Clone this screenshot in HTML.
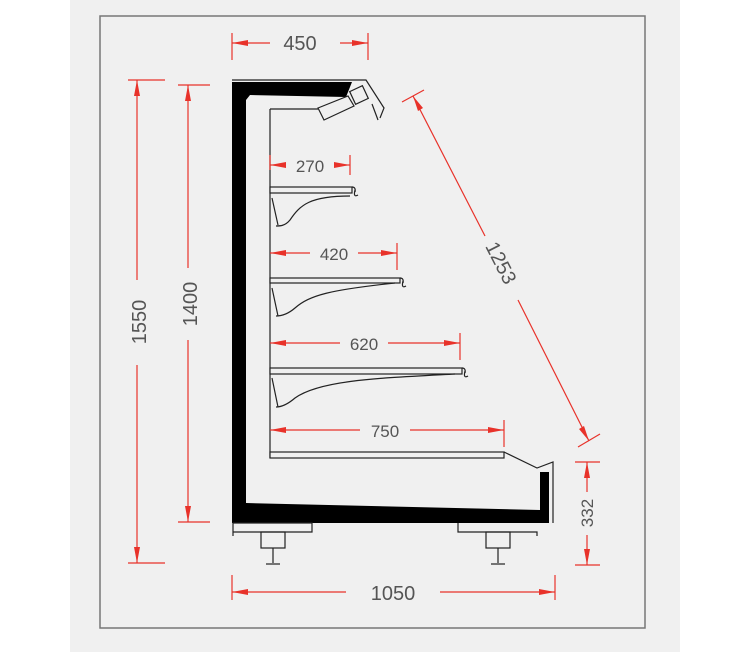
<!DOCTYPE html>
<html><head><style>body{margin:0;background:#fff}svg{display:block}</style></head><body>
<svg width="752" height="652" viewBox="0 0 752 652" xmlns="http://www.w3.org/2000/svg" font-family="Liberation Sans, DejaVu Sans, sans-serif">
<rect x="70" y="0" width="610" height="652" fill="#f0f0f0"/>
<rect x="100" y="16" width="545" height="612" fill="none" stroke="#777" stroke-width="1.5"/>
<g stroke="#222" stroke-width="1.2" fill="none">
<!-- top -->
<polyline points="232,80 366,80 384,108 380,118"/>
<polygon points="232,82 352,82 346,97 250,95 246,100 246,522 232,522" fill="#000" stroke="none"/>
<line x1="270" y1="109" x2="318" y2="109"/>
<polygon points="318,108 348,96 354,106 324,120" fill="#f0f0f0"/>
<rect x="352" y="88" width="14" height="14" transform="rotate(-25 359 95)" fill="#f0f0f0"/>
<line x1="372" y1="104" x2="378" y2="120"/>
<line x1="270" y1="109" x2="270" y2="458"/>
<!-- shelves -->
<rect x="270" y="187" width="82" height="6" fill="#f0f0f0"/>
<path d="M352,187 q4,0 3,5 M355,190 q-2,8 3,5"/>
<path d="M272,198 L278,225 M350,196 C310,196 300,205 290,220 C285,226 280,226 276,226"/>
<rect x="270" y="278" width="130" height="5" fill="#f0f0f0"/>
<path d="M400,278 q4,0 3,5 M403,281 q-2,8 3,5"/>
<path d="M272,288 L278,316 M395,283 C330,290 310,295 295,308 C288,314 282,316 276,316"/>
<rect x="270" y="368" width="192" height="6" fill="#f0f0f0"/>
<path d="M462,368 q4,0 3,5 M465,371 q-2,8 3,5"/>
<path d="M272,378 L278,407 M455,374 C380,378 320,380 295,398 C288,404 282,407 276,407"/>
<rect x="270" y="452" width="234" height="6" fill="#f0f0f0"/>
<polyline points="504,452 537,468 553,462 553,523"/>
<!-- bottom -->
<polygon points="246,503 540,510 540,472 549,472 549,523 232,523 232,500 246,500" fill="#000" stroke="none"/>
<polyline points="233,536 233,523 312,523 312,532 233,532"/>
<rect x="261" y="532" width="24" height="16"/>
<line x1="273" y1="548" x2="273" y2="563"/><line x1="266" y1="564" x2="280" y2="564"/>
<polyline points="458,523 458,532 537,532 537,536"/>
<rect x="486" y="532" width="24" height="16"/>
<line x1="498" y1="548" x2="498" y2="563"/><line x1="491" y1="564" x2="505" y2="564"/>
</g>
<g stroke="#e8322a" stroke-width="1.2" fill="#e8322a">
<line x1="232" y1="33" x2="232" y2="60"/><line x1="368" y1="33" x2="368" y2="60"/>
<line x1="232" y1="43" x2="270" y2="43"/><line x1="340" y1="43" x2="368" y2="43"/>
<polygon points="232,43 248,40 248,46" stroke="none"/><polygon points="368,43 352,40 352,46" stroke="none"/>
<line x1="128" y1="80" x2="165" y2="80"/><line x1="128" y1="563" x2="165" y2="563"/>
<line x1="137" y1="80" x2="137" y2="280"/><line x1="137" y1="365" x2="137" y2="563"/>
<polygon points="137,80 134,96 140,96" stroke="none"/><polygon points="137,563 134,547 140,547" stroke="none"/>
<line x1="178" y1="85" x2="210" y2="85"/><line x1="178" y1="522" x2="210" y2="522"/>
<line x1="188" y1="85" x2="188" y2="268"/><line x1="188" y1="340" x2="188" y2="522"/>
<polygon points="188,85 185,101 191,101" stroke="none"/><polygon points="188,522 185,506 191,506" stroke="none"/>
<line x1="402" y1="102" x2="424" y2="90"/><line x1="578" y1="447" x2="600" y2="434"/>
<line x1="413" y1="96" x2="485" y2="236"/><line x1="518" y1="300" x2="589" y2="441"/>
<polygon points="413,96 418,111 423,108" stroke="none"/><polygon points="589,441 579,429 584,426" stroke="none"/>
<line x1="575" y1="462" x2="600" y2="462"/><line x1="575" y1="565" x2="600" y2="565"/>
<line x1="587" y1="462" x2="587" y2="492"/><line x1="587" y1="535" x2="587" y2="565"/>
<polygon points="587,462 584,478 590,478" stroke="none"/><polygon points="587,565 584,549 590,549" stroke="none"/>
<line x1="232" y1="575" x2="232" y2="600"/><line x1="555" y1="575" x2="555" y2="600"/>
<line x1="232" y1="592" x2="346" y2="592"/><line x1="440" y1="592" x2="555" y2="592"/>
<polygon points="232,592 248,589 248,595" stroke="none"/><polygon points="555,592 539,589 539,595" stroke="none"/>
<line x1="270" y1="155" x2="270" y2="170"/><line x1="350" y1="155" x2="350" y2="175"/>
<line x1="270" y1="165" x2="285" y2="165"/><line x1="335" y1="165" x2="350" y2="165"/>
<polygon points="270,165 286,162 286,168" stroke="none"/><polygon points="350,165 334,162 334,168" stroke="none"/>
<line x1="397" y1="243" x2="397" y2="270"/>
<line x1="270" y1="253" x2="310" y2="253"/><line x1="358" y1="253" x2="397" y2="253"/>
<polygon points="270,253 286,250 286,256" stroke="none"/><polygon points="397,253 381,250 381,256" stroke="none"/>
<line x1="460" y1="333" x2="460" y2="360"/>
<line x1="270" y1="343" x2="340" y2="343"/><line x1="388" y1="343" x2="460" y2="343"/>
<polygon points="270,343 286,340 286,346" stroke="none"/><polygon points="460,343 444,340 444,346" stroke="none"/>
<line x1="504" y1="420" x2="504" y2="447"/>
<line x1="270" y1="430" x2="360" y2="430"/><line x1="410" y1="430" x2="504" y2="430"/>
<polygon points="270,430 286,427 286,433" stroke="none"/><polygon points="504,430 488,427 488,433" stroke="none"/>
</g>
<g fill="#555" font-size="20">
<text x="300" y="50" text-anchor="middle">450</text>
<text transform="translate(146,322) rotate(-90)" text-anchor="middle">1550</text>
<text transform="translate(197,304) rotate(-90)" text-anchor="middle">1400</text>
<text transform="translate(495,266) rotate(63)" text-anchor="middle">1253</text>
<text transform="translate(593,513) rotate(-90)" text-anchor="middle" font-size="17">332</text>
<text x="393" y="600" text-anchor="middle">1050</text>
<text x="310" y="172" text-anchor="middle" font-size="17">270</text>
<text x="334" y="260" text-anchor="middle" font-size="17">420</text>
<text x="364" y="350" text-anchor="middle" font-size="17">620</text>
<text x="385" y="437" text-anchor="middle" font-size="17">750</text>
</g>
</svg>
</body></html>
